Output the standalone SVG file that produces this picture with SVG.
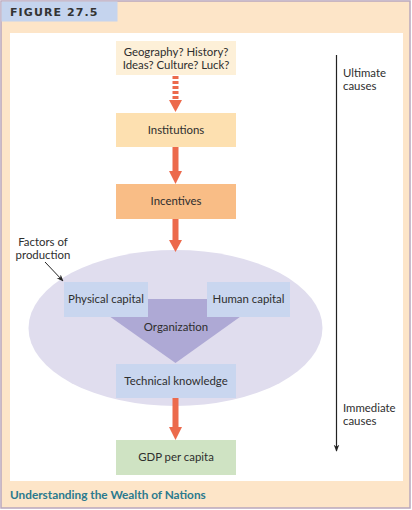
<svg xmlns="http://www.w3.org/2000/svg" width="412" height="510" viewBox="0 0 412 510">
<defs>
<style>
.t{font-family:Lato,"Open Sans","Liberation Sans",sans-serif;font-size:11.4px;fill:#2e2e2e;}
.c{text-anchor:middle;}
.arr{fill:#ec6a4c;}
</style>
<marker id="blk" viewBox="0 0 10 10" refX="9" refY="5" markerWidth="7" markerHeight="7" orient="auto" markerUnits="userSpaceOnUse">
<path d="M0,1 L10,5 L0,9 L3,5 z" fill="#222"/>
</marker>
</defs>
<rect x="1" y="1" width="409" height="507" fill="#fde5c8" stroke="#b9a7bd" stroke-width="1.5"/>
<rect x="1.5" y="1.5" width="116" height="20" fill="#c5d4ee"/>
<text x="10" y="16" font-family="'DejaVu Sans',sans-serif" font-weight="bold" font-size="11" letter-spacing="1.1" fill="#333">FIGURE 27.5</text>
<rect x="10" y="33" width="393" height="448" fill="#fff"/>
<text x="10" y="499" font-family="Lato,'Open Sans',sans-serif" font-weight="bold" font-size="11.8" fill="#2b7a8e">Understanding the Wealth of Nations</text>

<g id="factors">
<ellipse cx="175.5" cy="328" rx="147" ry="78" fill="#e0ddee"/>
</g>

<g id="organization">
<polygon points="85,299 265,299 175.5,363" fill="#aea9d5"/>
<text class="t c" x="176" y="331">Organization</text>
</g>

<g id="geography">
<rect x="116" y="41" width="120" height="34" fill="#fdf0d8"/>
<text class="t c" x="176" y="56">Geography? History?</text>
<text class="t c" x="176" y="68.5">Ideas? Culture? Luck?</text>
</g>
<g id="institutions">
<rect x="116" y="113" width="120" height="34" fill="#fde0b0"/>
<text class="t c" x="176" y="134">Institutions</text>
</g>
<g id="incentives">
<rect x="116" y="184" width="120" height="35" fill="#f9bd86"/>
<text class="t c" x="176" y="205">Incentives</text>
</g>
<g id="physical">
<rect x="64" y="282" width="84" height="35" fill="#c9d6ef"/>
<text class="t c" x="106" y="303">Physical capital</text>
</g>
<g id="human">
<rect x="207" y="282" width="83" height="35" fill="#c9d6ef"/>
<text class="t c" x="248.5" y="303">Human capital</text>
</g>
<g id="technical">
<rect x="116" y="364" width="120" height="34" fill="#c9d6ef"/>
<text class="t c" x="176" y="385">Technical knowledge</text>
</g>
<g id="gdp">
<rect x="116" y="440" width="120" height="35" fill="#cfe3c3"/>
<text class="t c" x="176" y="461">GDP per capita</text>
</g>
<g id="labels">
<text class="t c" x="43" y="246">Factors of</text>
<text class="t c" x="43" y="259">production</text>
<text class="t" x="343" y="77">Ultimate</text>
<text class="t" x="343" y="90">causes</text>
<text class="t" x="343" y="412">Immediate</text>
<text class="t" x="343" y="425">causes</text>
</g>

<g id="connectors">
<rect class="arr" x="172.5" y="76" width="6" height="3"/>
<rect class="arr" x="172.5" y="81" width="6" height="3"/>
<rect class="arr" x="172.5" y="86" width="6" height="3"/>
<rect class="arr" x="172.5" y="91" width="6" height="3"/>
<rect class="arr" x="172.5" y="96" width="6" height="3"/>
<polygon class="arr" points="169,100 182,100 175.5,112"/>
<rect class="arr" x="172.5" y="147" width="6" height="25"/>
<polygon class="arr" points="169,171 182,171 175.5,184"/>
<rect class="arr" x="172.5" y="219" width="6" height="22"/>
<polygon class="arr" points="169,240 182,240 175.5,252"/>
<rect class="arr" x="172.5" y="398" width="6" height="30"/>
<polygon class="arr" points="169,427 182,427 175.5,440"/>
<line x1="336.5" y1="55" x2="336.5" y2="451" stroke="#222" stroke-width="1.2" marker-end="url(#blk)"/>
<line x1="45" y1="262" x2="63" y2="281" stroke="#222" stroke-width="1" marker-end="url(#blk)"/>
</g>
</svg>
